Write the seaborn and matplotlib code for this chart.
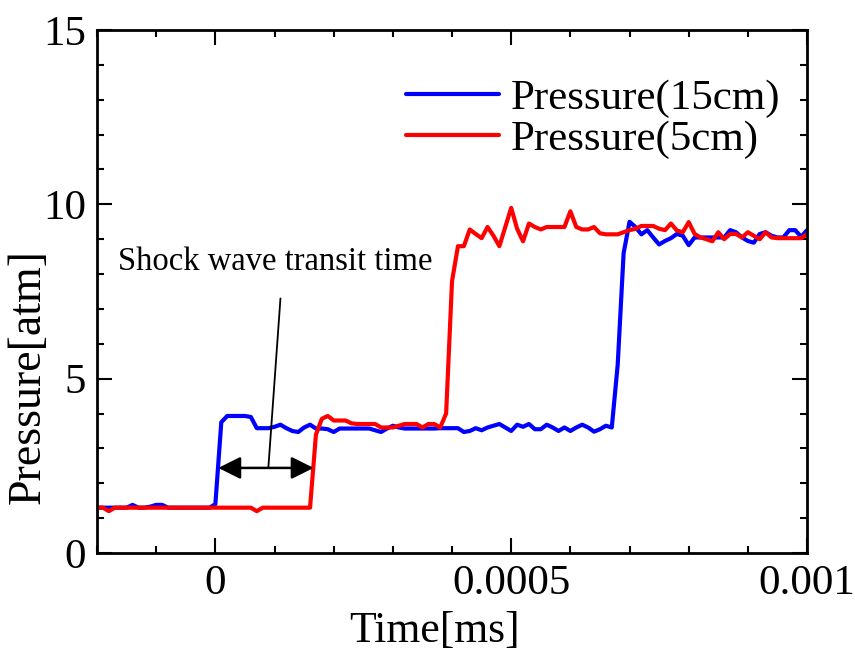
import numpy as np
import pandas as pd
import matplotlib
matplotlib.use("Agg")
import matplotlib.pyplot as plt
import seaborn as sns
from matplotlib.ticker import MultipleLocator

# ---- data (time step 1e-5, from -0.0002 to 0.001) ----
time = np.round(np.arange(-0.0002, 0.001 + 1e-9, 1e-5), 7)

p15 = [
    1.3, 1.3, 1.3, 1.3, 1.3, 1.3, 1.38, 1.3, 1.3, 1.33,      # -0.0002 .. -0.00011
    1.38, 1.38, 1.3, 1.3, 1.3, 1.3, 1.3, 1.3, 1.3, 1.3,      # -0.0001 .. -0.00001
    1.4, 3.75, 3.93, 3.93, 3.93, 3.93, 3.9, 3.58, 3.58, 3.58,  # 0 .. 0.00009
    3.62, 3.68, 3.58, 3.5, 3.47, 3.6, 3.68, 3.57, 3.57, 3.55,  # 0.0001 ..
    3.47, 3.57, 3.57, 3.57, 3.57, 3.57, 3.57, 3.52, 3.47, 3.57,  # 0.0002 ..
    3.65, 3.6, 3.57, 3.57, 3.57, 3.57, 3.57, 3.57, 3.58, 3.58,  # 0.0003 ..
    3.58, 3.58, 3.47, 3.5, 3.58, 3.52, 3.6, 3.65, 3.7, 3.6,    # 0.0004 ..
    3.5, 3.68, 3.62, 3.7, 3.55, 3.55, 3.68, 3.6, 3.5, 3.6,     # 0.0005 ..
    3.5, 3.6, 3.68, 3.6, 3.48, 3.55, 3.65, 3.6, 5.4, 8.6,      # 0.0006 ..
    9.5, 9.35, 9.14, 9.26, 9.05, 8.85, 8.95, 9.03, 9.15, 9.1,  # 0.0007 ..
    8.83, 9.05, 9.05, 9.05, 9.05, 9.05, 9.05, 9.26, 9.2, 9.05,  # 0.0008 ..
    8.95, 8.9, 9.15, 9.2, 9.1, 9.05, 9.05, 9.26, 9.26, 9.07,   # 0.0009 ..
    9.26,                                                      # 0.001
]

p5 = [
    1.3, 1.3, 1.2, 1.3, 1.3, 1.3, 1.3, 1.3, 1.3, 1.3,
    1.3, 1.3, 1.3, 1.3, 1.3, 1.3, 1.3, 1.3, 1.3, 1.3,
    1.3, 1.3, 1.3, 1.3, 1.3, 1.3, 1.3, 1.2, 1.3, 1.3,
    1.3, 1.3, 1.3, 1.3, 1.3, 1.3, 1.3, 3.4, 3.85, 3.93,
    3.8, 3.8, 3.8, 3.72, 3.7, 3.7, 3.7, 3.7, 3.6, 3.6,
    3.6, 3.65, 3.7, 3.7, 3.7, 3.6, 3.7, 3.7, 3.6, 4.0,
    7.8, 8.8, 8.8, 9.28, 9.15, 9.03, 9.35, 9.1, 8.8, 9.35,
    9.9, 9.3, 8.94, 9.45, 9.35, 9.28, 9.35, 9.35, 9.35, 9.35,
    9.8, 9.35, 9.28, 9.28, 9.35, 9.17, 9.14, 9.14, 9.14, 9.2,
    9.26, 9.3, 9.38, 9.38, 9.38, 9.3, 9.26, 9.45, 9.25, 9.2,
    9.49, 9.15, 9.05, 9.0, 8.94, 9.2, 9.0, 9.15, 9.15, 9.05,
    9.2, 9.1, 9.0, 9.2, 9.05, 9.03, 9.03, 9.03, 9.03, 9.03,
    9.14,
]

series_names = ["Pressure(15cm)", "Pressure(5cm)"]
series_colors = ["#0000ff", "#ff0000"]
x_ticks = [0, 0.0005, 0.001]
x_tick_labels = ["0", "0.0005", "0.001"]
y_ticks = [0, 5, 10, 15]
annotation_text = "Shock wave transit time"

df = pd.DataFrame({
    "Time": np.concatenate([time, time]),
    "Pressure": np.concatenate([p15, p5]),
    "series": [series_names[0]] * len(time) + [series_names[1]] * len(time),
})

# ---- style ----
sns.set_style("ticks")
plt.rcParams["font.family"] = ["Liberation Serif", "DejaVu Serif"]
plt.rcParams["text.color"] = "black"
plt.rcParams["axes.labelcolor"] = "black"
plt.rcParams["xtick.color"] = "black"
plt.rcParams["ytick.color"] = "black"

fig = plt.figure(figsize=(8.55, 6.57), dpi=100)
ax = fig.add_axes([0.1135, 0.1583, 0.8304, 0.796])

sns.lineplot(data=df, x="Time", y="Pressure", hue="series",
             palette=dict(zip(series_names, series_colors)),
             linewidth=3, ax=ax, legend=True)

ax.set_xlim(-0.0002, 0.001)
ax.set_ylim(0, 15)
ax.set_xticks(x_ticks)
ax.set_xticklabels(x_tick_labels)
ax.set_yticks(y_ticks)
ax.xaxis.set_minor_locator(MultipleLocator(0.0001))
ax.yaxis.set_minor_locator(MultipleLocator(1))

ax.tick_params(which="both", direction="in", top=True, right=True,
               width=1.5, colors="black")
ax.tick_params(which="major", length=11, labelsize=31, pad=8)
ax.tick_params(which="minor", length=5)
for s in ax.spines.values():
    s.set_linewidth(2)
    s.set_color("black")

ax.set_xlabel("Time[ms]", fontsize=31.5)
ax.xaxis.set_label_coords(0.476, -0.11)
ax.set_ylabel("Pressure[atm]", fontsize=33)
ax.yaxis.set_label_coords(-0.066, 0.337)

leg = ax.legend(loc="center right", bbox_to_anchor=(0.962, 0.83), frameon=False,
                fontsize=31, handlelength=2.15, handletextpad=0.27,
                labelspacing=0.05, borderaxespad=0, borderpad=0)
for line in leg.get_lines():
    line.set_linewidth(3)

# annotation
ax.text(-0.000164, 8.34, annotation_text, fontsize=23.5, va="center", ha="left")
ax.annotate("", xy=(0.000005, 2.44), xytext=(0.000166, 2.44),
            arrowprops=dict(arrowstyle="<|-|>", color="black", lw=1.8,
                            mutation_scale=34, shrinkA=0, shrinkB=0))
ax.plot([0.0000895, 0.000110], [2.44, 7.3], color="black", lw=1.3)

fig.savefig("out.png", dpi=100)
